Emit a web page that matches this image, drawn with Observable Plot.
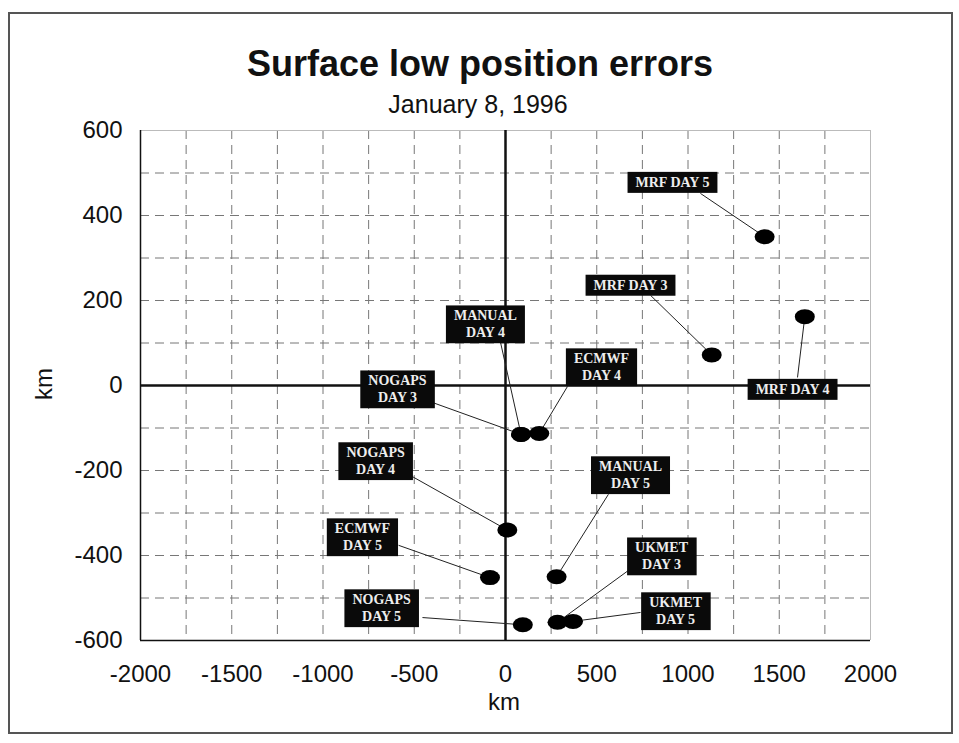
<!DOCTYPE html>
<html><head><meta charset="utf-8">
<script src="https://cdn.jsdelivr.net/npm/d3@7"></script>
<script src="https://cdn.jsdelivr.net/npm/@observablehq/plot@0.6"></script>
<style>
body{margin:0;background:#fff;}
#wrap{position:relative;width:959px;height:743px;overflow:hidden;font-family:"Liberation Sans",Arial,sans-serif;color:#111;}
#frame{position:absolute;left:8px;top:12px;width:945px;height:722px;border:2px solid #555;box-sizing:border-box;}
#title{position:absolute;left:0;width:960px;top:43px;text-align:center;font-size:36px;font-weight:bold;}
#sub{position:absolute;left:0;width:956px;top:90px;text-align:center;font-size:25px;}
#xl{position:absolute;left:0;width:1008px;top:688px;text-align:center;font-size:24px;}
#yl{position:absolute;left:28px;top:370px;font-size:24px;transform:rotate(-90deg);transform-origin:center;}
#plot{position:absolute;left:0;top:0;}
</style></head>
<body>
<div id="wrap">
<div id="frame"></div>
<div id="plot"></div>
<div id="title">Surface low position errors</div>
<div id="sub">January 8, 1996</div>
<div id="xl">km</div>
<div id="yl">km</div>
</div>
<script>
// forecast labels
const labels = ["MRF DAY 5","MRF DAY 3","MRF DAY 4","MANUAL\nDAY 4","ECMWF\nDAY 4","NOGAPS\nDAY 3","NOGAPS\nDAY 4","MANUAL\nDAY 5","ECMWF\nDAY 5","UKMET\nDAY 3","NOGAPS\nDAY 5","UKMET\nDAY 5"];
// error position of surface low for each label (km east, km north)
const errX = [1420, 1130, 1640, 85, 185, 85, 10, 280, -85, 285, 95, 370];
const errY = [350, 72, 162, -115, -113, -115, -340, -450, -452, -557, -563, -555];
// label centres (km)
const lblX = [915, 685, 1573, -110, 526, -592, -712, 685, -784, 855, -679, 932];
const lblY = [480, 238, -7, 146, 45, -7, -176, -209, -355, -400, -522, -529];
// leader start points (km)
const legX = [1068, 795, 1600, -27, 340, -400, -520, 564, -586, 674, -455, 740];
const legY = [452, 212, 19, 101, -2, -40, -212, -256, -376, -435, -546, -534];

const lbl = labels.map((t,i)=>({t, x: lblX[i], y: lblY[i], x1: legX[i], y1: legY[i], x2: errX[i], y2: errY[i]}));

const xTicks = [-2000,-1500,-1000,-500,0,500,1000,1500,2000];
const yTicks = [-600,-400,-200,0,200,400,600];
const xGrid = d3.range(-1750, 2000, 250);
const yGrid = d3.range(-500, 600, 100);

const chart = Plot.plot({
  width: 959, height: 743,
  marginLeft: 140, marginRight: 89, marginTop: 130, marginBottom: 103,
  style: {fontFamily: '"Liberation Sans", Arial, sans-serif', fontSize: "24px", color: "#111", background: "transparent"},
  x: {domain: [-2000, 2000], ticks: xTicks, tickFormat: d => `${d}`, tickSize: 0, tickPadding: 24, label: null},
  y: {domain: [-600, 600], ticks: yTicks, tickFormat: d => `${d}`, tickSize: 0, tickPadding: 18, label: null},
  marks: [
    Plot.ruleX(xGrid, {stroke: "#777", strokeDasharray: "9,6", strokeWidth: 1}),
    Plot.ruleY(yGrid, {stroke: "#777", strokeDasharray: "9,6", strokeWidth: 1}),
    Plot.ruleX([2000], {stroke: "#bbb"}),
    Plot.ruleY([600], {stroke: "#bbb"}),
    Plot.ruleX([-2000], {stroke: "#111", strokeWidth: 1.5}),
    Plot.ruleY([-600], {stroke: "#111", strokeWidth: 1.5}),
    Plot.ruleX([0], {stroke: "#111", strokeWidth: 2.5}),
    Plot.ruleY([0], {stroke: "#111", strokeWidth: 2.5}),
    Plot.link(lbl, {x1: "x1", y1: "y1", x2: "x2", y2: "y2", stroke: "#222", strokeWidth: 1}),
    Plot.dot(lbl, {x: "x2", y: "y2", r: 8, fill: "#000", stroke: "none", className: "pts"}),
    Plot.text(lbl, {x: "x", y: "y", text: "t", fill: "#eee", fontFamily: '"Liberation Serif", "Times New Roman", serif', fontWeight: "bold", fontSize: 14, lineHeight: 1.2, className: "lbls"})
  ]
});
document.getElementById("plot").appendChild(chart);
// elliptical markers
chart.querySelectorAll("g.pts circle").forEach(c => {
  const e = document.createElementNS("http://www.w3.org/2000/svg", "ellipse");
  e.setAttribute("cx", c.getAttribute("cx") || 0); e.setAttribute("cy", c.getAttribute("cy") || 0);
  e.setAttribute("rx", 10); e.setAttribute("ry", 7.5); e.setAttribute("fill", "#000");
  const tr = c.getAttribute("transform"); if (tr) e.setAttribute("transform", tr);
  c.replaceWith(e);
});
// black boxes behind labels
chart.querySelectorAll("g.lbls text").forEach(t => {
  const b = t.getBBox();
  const r = document.createElementNS("http://www.w3.org/2000/svg", "rect");
  r.setAttribute("x", b.x - 8); r.setAttribute("y", b.y - 3);
  r.setAttribute("width", b.width + 16); r.setAttribute("height", b.height + 6);
  r.setAttribute("fill", "#0a0a0a");
  const tr = t.getAttribute("transform");
  if (tr) r.setAttribute("transform", tr);
  t.parentNode.insertBefore(r, t);
});
</script>
</body></html>
